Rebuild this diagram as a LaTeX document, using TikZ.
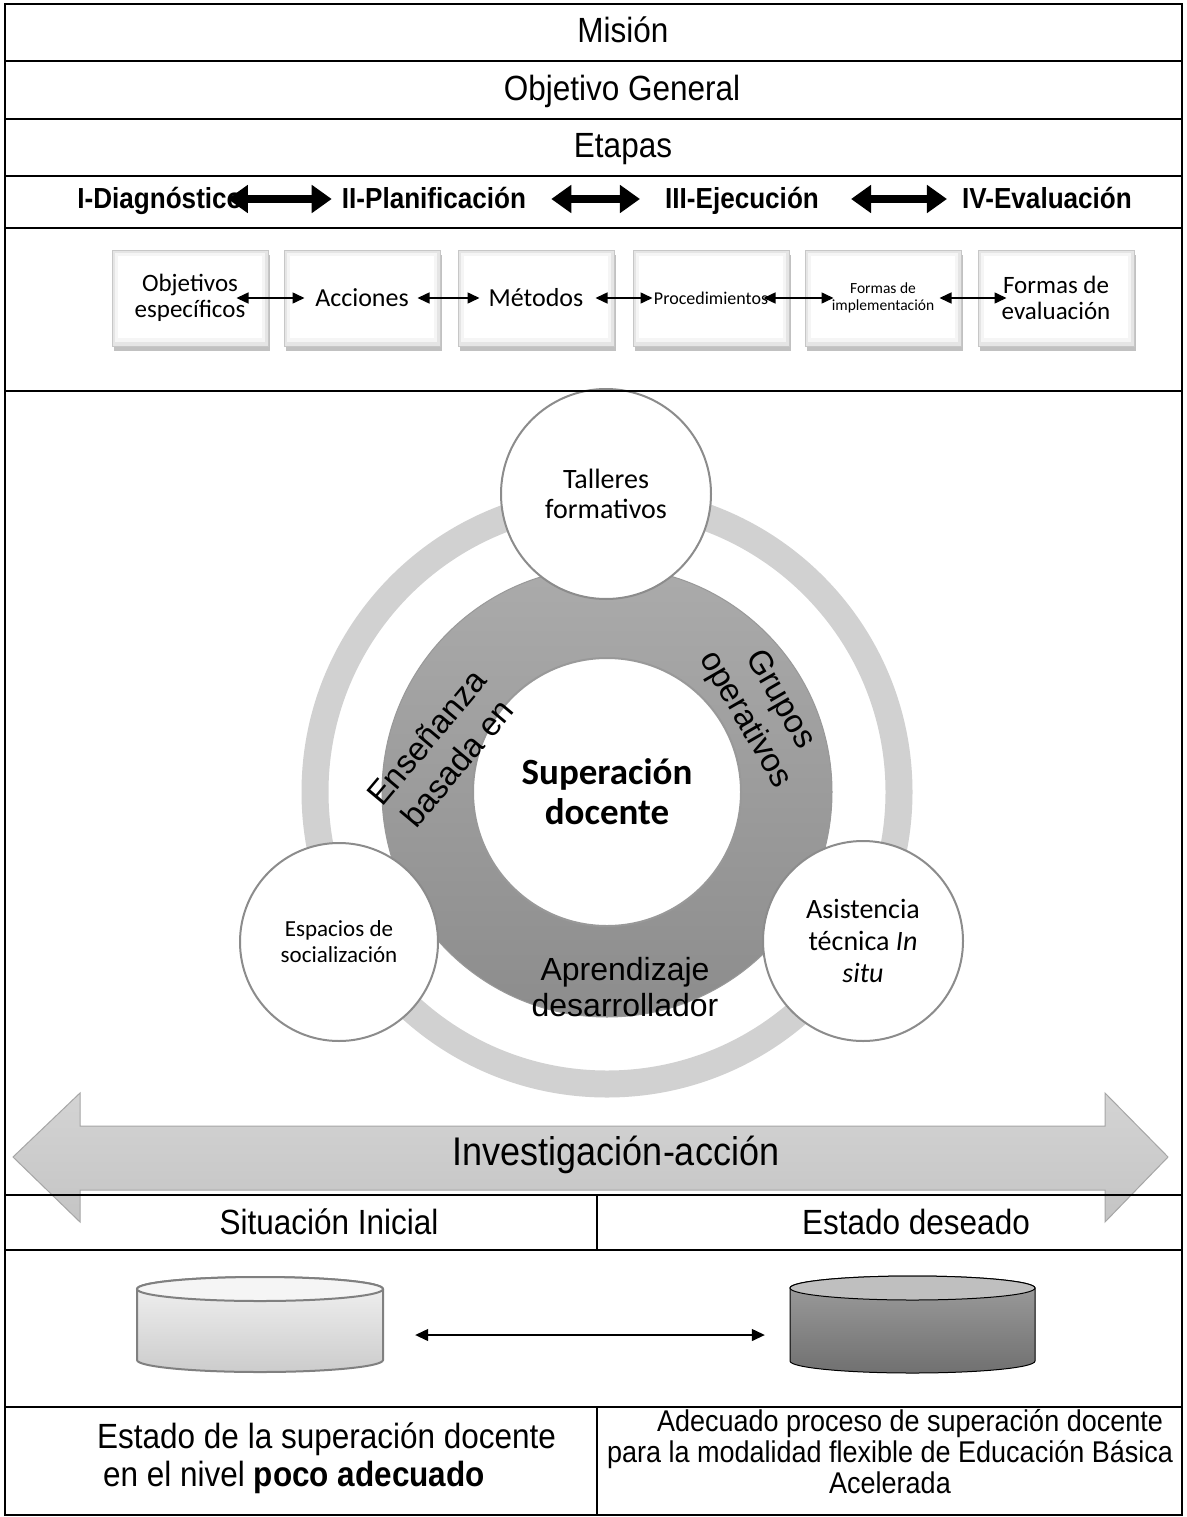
\documentclass[tikz,border=0pt]{standalone}
\usepackage{fontspec}
\setmainfont{Liberation Sans}
\newfontfamily\narrowfont{Liberation Sans}[FakeStretch=0.9]
\newfontfamily\calfont{Carlito}
\usetikzlibrary{arrows.meta,shadows,calc}
\newcommand{\fsz}[2]{\fontsize{#1}{#2}\selectfont}
\begin{document}
\begin{tikzpicture}[x=1pt,y=-1pt,
  tableline/.style={line width=2.2pt, draw=black},
  rowtext/.style={font=\narrowfont\fsz{35}{40}, inner sep=0, anchor=base},
  stagetext/.style={font=\narrowfont\bfseries\fsz{29}{34}, inner sep=0, anchor=base},
  stagearrow/.style={line width=8pt, {Triangle[length=20pt,width=27pt]}-{Triangle[length=20pt,width=27pt]}},
  stepbox/.style={draw=black!22, line width=1pt, fill=black!10, minimum width=156pt, minimum height=96pt, inner sep=0, align=center,
    drop shadow={shadow xshift=2pt, shadow yshift=-5pt, opacity=0.4, fill=black!60},
    path picture={
      \fill[black!4] ([shift={(3pt,-3pt)}]path picture bounding box.north west) rectangle ([shift={(-3pt,4pt)}]path picture bounding box.south east);
      \fill[white] ([shift={(6pt,-6pt)}]path picture bounding box.north west) rectangle ([shift={(-6pt,8pt)}]path picture bounding box.south east);
    }},
  boxarrow/.style={line width=1.5pt, {Triangle[length=12pt,width=11pt]}-{Triangle[length=12pt,width=11pt]}},
  smallcirc/.style={circle, draw=black!45, line width=2pt, fill=white, inner sep=0, align=center},
  ringtext/.style={font=\fsz{33}{40}, align=center, inner sep=0},
  cylarrow/.style={line width=1.3pt, {Triangle[length=13pt,width=12pt]}-{Triangle[length=13pt,width=12pt]}}
]
\useasboundingbox (0,0) rectangle (1186,1517);
\fill[white] (0,0) rectangle (1186,1517);

% ---- top rows
\node[rowtext] (mision) at (623,43) {Misión};
\node[rowtext] (objgen) at (622,101) {Objetivo General};
\node[rowtext] (etapas) at (623,158) {Etapas};

\node[stagetext] (st1) at (160,208) {I-Diagnóstico};
\node[stagetext] (st2) at (434,208) {II-Planificación};
\node[stagetext] (st3) at (742,208) {III-Ejecución};
\node[stagetext] (st4) at (1047,208) {IV-Evaluación};
\draw[stagearrow, shorten <=-15pt, shorten >=10pt] ([yshift=9pt]st1.base east) -- ([yshift=9pt]st2.base west);
\draw[stagearrow, shorten <=25pt, shorten >=25pt] ([yshift=9pt]st2.base east) -- ([yshift=9pt]st3.base west);
\draw[stagearrow, shorten <=32pt, shorten >=15pt] ([yshift=9pt]st3.base east) -- ([yshift=9pt]st4.base west);

% ---- boxes
\node[stepbox, font=\calfont\fsz{25}{26}] (b1) at (190,298) {Objetivos\\específicos};
\node[stepbox, font=\calfont\fsz{26}{27}] (b2) at (362,298) {Acciones};
\node[stepbox, font=\calfont\fsz{26}{27}] (b3) at (536,298) {Métodos};
\node[stepbox, font=\calfont\fsz{18}{19}] (b4) at (711,298) {Procedimientos};
\node[stepbox, font=\calfont\fsz{15.5}{17}] (b5) at (883,298) {Formas de\\implementación};
\node[stepbox, font=\calfont\fsz{25}{26}] (b6) at (1056,298) {Formas de\\evaluación};
\draw[boxarrow, shorten <=-32pt, shorten >=-21pt] (b1.east) -- (b2.west);
\draw[boxarrow, shorten <=-23pt, shorten >=-22pt] (b2.east) -- (b3.west);
\draw[boxarrow, shorten <=-19pt, shorten >=-20pt] (b3.east) -- (b4.west);
\draw[boxarrow, shorten <=-26pt, shorten >=-29pt] (b4.east) -- (b5.west);
\draw[boxarrow, shorten <=-22pt, shorten >=-29pt] (b5.east) -- (b6.west);

% ---- circles
\coordinate (c) at (607,792);
\draw[line width=27pt, draw=black!18] (c) circle[radius=292];
\shade[top color=black!33, bottom color=black!45, draw=black!40, line width=1pt] (c) circle[radius=225];
\node[circle, draw=black!40, line width=2pt, fill=white, minimum size=268pt, inner sep=0, align=center,
  font=\calfont\bfseries\fsz{37}{40}] (sup) at (c) {Superación\\docente};
\node[smallcirc, minimum size=210pt, font=\calfont\fsz{28}{30}] (talleres) at (606,494) {Talleres\\formativos};
\node[smallcirc, minimum size=198pt, font=\calfont\fsz{23}{26}] (espacios) at (339,942) {Espacios de\\socialización};
\node[smallcirc, minimum size=200pt, font=\calfont\fsz{28}{32}] (asist) at (863,941) {Asistencia\\técnica \textit{In}\\\textit{situ}};
\node[ringtext, rotate=50] (ensen) at (442,750) {Enseñanza\\basada en};
\node[ringtext, rotate=-60] (grupos) at (762,710) {Grupos\\operativos};
\node[font=\fsz{32}{36}, align=center, inner sep=0] (aprend) at (625,987) {Aprendizaje\\desarrollador};

% ---- big double arrow
\shade[top color=black!17, bottom color=black!23, draw=black!35, line width=1pt]
  (13,1157) -- (80,1093) -- (80,1126) -- (1105,1126) -- (1105,1093) -- (1168,1157)
  -- (1105,1222) -- (1105,1190) -- (80,1190) -- (80,1222) -- cycle;
\node[font=\narrowfont\fsz{40}{44}, inner sep=0] (invac) at (616,1155) {Investigación-acción};

% ---- table lines
\draw[tableline] (5,4) rectangle (1182,1515);
\foreach \yy in {61,119,176,228,391,1195,1250,1407}
  \draw[tableline] (5,\yy) -- (1182,\yy);
\draw[tableline] (597,1195) -- (597,1250);
\draw[tableline] (597,1407) -- (597,1515);

\node[rowtext] (sitini) at (329,1234) {Situación Inicial};
\node[rowtext] (estdes) at (916,1234) {Estado deseado};

% ---- cylinders
\shade[top color=black!5, bottom color=black!20, draw=black!50, line width=2pt]
  (137,1289) -- (137,1360) arc[start angle=180,end angle=0,x radius=123,y radius=12]
  -- (383,1289) arc[start angle=0,end angle=-180,x radius=123,y radius=12] -- cycle;
\draw[fill=black!4, draw=black!50, line width=2pt] (260,1289) ellipse[x radius=123, y radius=12];
\shade[top color=black!38, bottom color=black!56, draw=black, line width=1pt]
  (790,1288) -- (790,1361) arc[start angle=180,end angle=0,x radius=122.5,y radius=12]
  -- (1035,1288) arc[start angle=0,end angle=-180,x radius=122.5,y radius=12] -- cycle;
\draw[fill=black!25, draw=black, line width=1pt] (912.5,1288) ellipse[x radius=122.5, y radius=12];
\node[minimum width=246pt, minimum height=96pt, inner sep=0] (cylL) at (260,1335) {};
\node[minimum width=245pt, minimum height=96pt, inner sep=0] (cylR) at (912.5,1335) {};
\draw[cylarrow, shorten <=32pt, shorten >=25pt] (cylL.east) -- (cylR.west);

% ---- bottom texts
\node[font=\narrowfont\fsz{35}{38}, align=left, anchor=west, inner sep=0] (estl) at (97,1458)
  {Estado de la superación docente\\\hspace*{6pt}en el nivel \textbf{poco adecuado}};
\node[font=\narrowfont\fsz{30}{31}, align=center, inner sep=0] (estr) at (890,1452)
  {\hspace*{40pt}Adecuado proceso de superación docente\\para la modalidad flexible de Educación Básica\\Acelerada};
\end{tikzpicture}
\end{document}
